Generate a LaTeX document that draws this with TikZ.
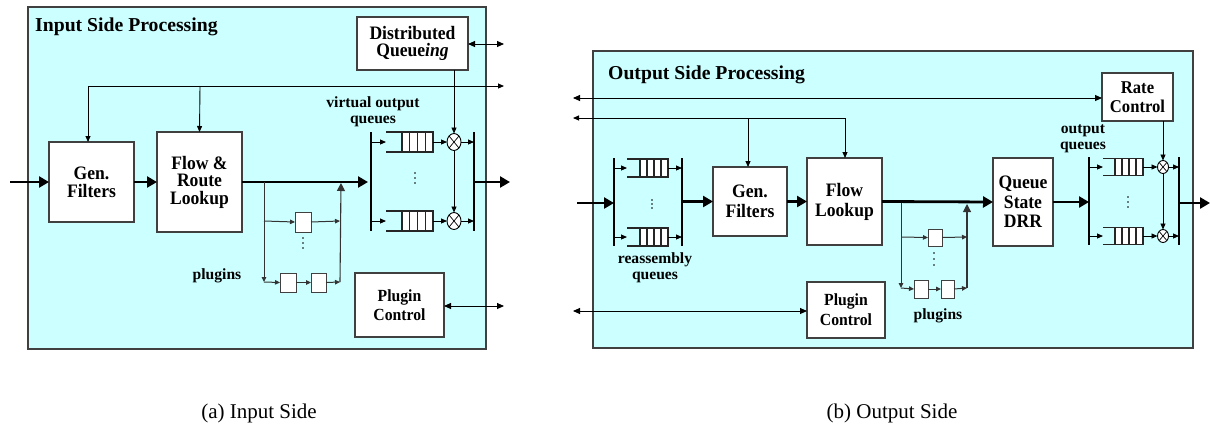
\documentclass[tikz,border=0pt]{standalone}
\usepackage{fontspec}
\setmainfont{Liberation Serif}
\newfontfamily\bxf[FakeStretch=0.925]{Liberation Serif}
\usetikzlibrary{arrows.meta,shapes.geometric}
\definecolor{panelcyan}{HTML}{CCFFFF}
\definecolor{edgegray}{HTML}{404040}
\newcommand{\myqueue}[6]{%
  \node[qnode, minimum width=#4, minimum height=#5] (#1) at (#2,#3) {};
  \pgfmathsetmacro\qa{#2-#4/2+#6}%
  \pgfmathsetmacro\qr{#2+#4/2}%
  \pgfmathsetmacro\qt{#3-#5/2}%
  \pgfmathsetmacro\qb{#3+#5/2}%
  \fill[white] (\qa,\qt) rectangle (\qr,\qb);
  \foreach \k in {0,1,2,3}{\pgfmathsetmacro\qx{\qa+\k*(\qr-\qa)/4}\draw[qline] (\qx,\qt)--(\qx,\qb);}
  \draw[qline] (#1.north west) -- (#1.north east) -- (#1.south east) -- (#1.south west);
}
\newcommand{\mydots}[4]{% x, y1, y2, y3
  \fill (#1,#2) circle (0.9) (#1,#3) circle (0.9) (#1,#4) circle (0.9);}
\begin{document}
\begin{tikzpicture}[x=1pt,y=-1pt,
  panelbox/.style={draw=edgegray, line width=1.3pt, fill=panelcyan, inner sep=0pt, outer sep=0pt},
  box/.style={draw=edgegray, line width=1.2pt, fill=white, inner sep=0pt, outer sep=0pt, align=center},
  pbox/.style={draw=edgegray, line width=1pt, fill=white, inner sep=0pt, outer sep=0pt},
  qnode/.style={inner sep=0pt, outer sep=0pt},
  qline/.style={line width=1.2pt, draw=black!85},
  mux/.style={ellipse, draw=black, line width=0.9pt, fill=white, inner sep=0pt, outer sep=0pt,
    path picture={\draw[line width=0.7pt] (path picture bounding box.north west) -- (path picture bounding box.south east)
      (path picture bounding box.north east) -- (path picture bounding box.south west);}},
  bar/.style={line width=1.3pt},
  thinar/.style={line width=0.9pt, -{Triangle[length=6pt,width=5pt]}},
  dblar/.style={line width=0.9pt, {Triangle[length=7pt,width=6pt]}-{Triangle[length=7pt,width=6pt]}},
  plg/.style={line width=1pt, draw=black!80, -{Triangle[length=5pt,width=4.5pt]}},
  thickar/.style={line width=2.8pt, -{Triangle[length=10pt,width=11pt]}},
  upar/.style={line width=1.1pt, draw=black!80, -{Triangle[length=8pt,width=8pt]}},
  ttl/.style={font=\bfseries\fontsize{19.7}{22}\selectfont, inner sep=0pt, anchor=base west},
  lbl/.style={font=\bfseries\fontsize{15.6}{16}\selectfont, inner sep=0pt, align=center},
  captext/.style={font=\fontsize{21}{24}\selectfont, inner sep=0pt},
]
\useasboundingbox (0,0) rectangle (1210,429);

% ================= (a) Input side =================
\node[panelbox, minimum width=458, minimum height=342] (pa) at (257,178) {};
\node[ttl] (ta) at (35,31) {Input Side Processing};

\node[box, minimum width=111, minimum height=53, font=\bxf\bfseries\fontsize{19}{17.5}\selectfont] (dq) at (412.5,43.5) {Distributed\\Queue\textit{ing}};
\node[box, minimum width=85, minimum height=80, font=\bxf\bfseries\fontsize{19}{18}\selectfont] (gf) at (91.5,182) {Gen.\\Filters};
\node[box, minimum width=85, minimum height=100, font=\bxf\bfseries\fontsize{19}{17.5}\selectfont] (fr) at (199.5,182) {Flow \&\\Route\\Lookup};
\node[box, minimum width=89, minimum height=64, font=\bxf\bfseries\fontsize{17}{19}\selectfont] (pc) at (399.5,305) {Plugin\\Control};

% plugins
\node[pbox, minimum width=16, minimum height=20] (pt) at (303,222) {};
\node[pbox, minimum width=16, minimum height=19] (pb1) at (288,282.5) {};
\node[pbox, minimum width=15, minimum height=19] (pb2) at (318.5,282.5) {};
\node[lbl] (lp) at (217,276) {plugins};
\mydots{303}{238}{243}{248}

% VOQ
\coordinate (vl1) at (371,132); \coordinate (vl2) at (371,231);
\coordinate (vr1) at (474,132); \coordinate (vr2) at (474,231);
\draw[bar] (vl1) -- (vl2);
\draw[bar] (vr1) -- (vr2);
\myqueue{q1}{409.5}{142}{47}{20}{16}
\myqueue{q2}{409.5}{221}{47}{20}{16}
\node[mux, minimum width=14, minimum height=17] (m1) at (454,142) {};
\node[mux, minimum width=14, minimum height=17] (m2) at (454,221) {};
\node[lbl] (lv) at (373,112) {virtual output\\queues};
\mydots{415}{173}{178}{183}

% connectors (a)
\coordinate (ain) at (10,182);
\draw[thickar] (ain) -- (gf.west);
\draw[thickar] (gf.east) -- (fr.west);
\coordinate (amain) at (368,182);
\draw[thickar] (fr.east) -- (amain);
\coordinate (pj) at (264,182); \coordinate (pc1) at (264,282); \coordinate (pm) at (264,221);
\coordinate (pr1) at (340,282); \coordinate (pr2) at (340,221); \coordinate (pr3) at (341,183);
\draw[plg] (pj) -- (pc1);
\draw[plg] (pc1) -- (pb1.west);
\draw[plg] (pm) -- (pt.west);
\draw[plg] (pb1.east) -- (pb2.west);
\draw[plg] (pb2.east) -- (pr1);
\draw[plg] (pt.east) -- (pr2);
\draw[upar] (pr1) -- (pr3);

\coordinate (tl) at (88,86); \coordinate (tm) at (200,86); \coordinate (tr) at (504,86);
\draw[thinar] (tl) -- (tr);
\draw[thinar] (tl) -- (tl |- gf.north);
\draw[thinar] (tm) -- (fr.north);
\coordinate (dqo) at (504,44);
\draw[dblar] (dq.east |- dqo) -- (dqo);
\draw[thinar] (dq.south -| m1.north) -- (m1.north);
\draw[thinar] (m1.south) -- (m2.north);
\draw[thinar] (vl1 |- q1.west) -- (q1.west);
\draw[thinar] (vl1 |- q2.west) -- (q2.west);
\draw[thinar] (q1.east) -- (m1.west);
\draw[thinar] (q2.east) -- (m2.west);
\draw[thinar] (m1.east) -- (vr1 |- m1.east);
\draw[thinar] (m2.east) -- (vr1 |- m2.east);
\coordinate (aout) at (510,182);
\draw[thickar] (vr1 |- aout) -- (aout);
\coordinate (pco) at (504,306);
\draw[dblar] (pc.east |- pco) -- (pco);

\node[captext] (capa) at (259,413) {(a) Input Side};

% ================= (b) Output side =================
\node[panelbox, minimum width=600, minimum height=297] (pbx) at (893,199.5) {};
\node[ttl] (tb) at (608,79) {Output Side Processing};

\node[box, minimum width=71, minimum height=48, font=\bxf\bfseries\fontsize{18}{19.5}\selectfont] (rc) at (1137.5,97) {Rate\\Control};
\node[box, minimum width=74, minimum height=69, font=\bxf\bfseries\fontsize{19}{20}\selectfont] (gf2) at (750,201.5) {Gen.\\Filters};
\node[box, minimum width=75, minimum height=87, font=\bxf\bfseries\fontsize{19}{20}\selectfont] (fl) at (844.5,201.5) {Flow\\Lookup};
\node[box, minimum width=60, minimum height=88, font=\bxf\bfseries\fontsize{19}{19.5}\selectfont] (qs) at (1023,202) {Queue\\State\\DRR};
\node[box, minimum width=78, minimum height=56, font=\bxf\bfseries\fontsize{17}{20}\selectfont] (pc2) at (846,310) {Plugin\\Control};

% reassembly queues
\coordinate (rl1) at (614,158); \coordinate (rl2) at (614,246);
\coordinate (rr1) at (682,158); \coordinate (rr2) at (682,246);
\draw[bar] (rl1) -- (rl2);
\draw[bar] (rr1) -- (rr2);
\myqueue{rq1}{647.5}{168}{41}{18}{13}
\myqueue{rq2}{647.5}{237}{41}{18}{13}
\draw[thinar] (rl1 |- rq1.west) -- (rq1.west);
\draw[thinar] (rl1 |- rq2.west) -- (rq2.west);
\draw[thinar] (rq1.east) -- (rr1 |- rq1.east);
\draw[thinar] (rq2.east) -- (rr1 |- rq2.east);
\node[lbl] (lr) at (655,268) {reassembly\\queues};
\mydots{652}{200}{204}{208}

% plugins (b)
\node[pbox, minimum width=14, minimum height=17] (qt) at (935,237.5) {};
\node[pbox, minimum width=14, minimum height=18] (qb1) at (921,289) {};
\node[pbox, minimum width=13, minimum height=18] (qb2) at (947.5,289) {};
\node[lbl] (lp2) at (938,316) {plugins};
\mydots{934}{253}{259}{265}

% output queues
\coordinate (ol1) at (1089,157); \coordinate (ol2) at (1089,245);
\coordinate (or1) at (1179,157); \coordinate (or2) at (1179,245);
\draw[bar] (ol1) -- (ol2);
\draw[bar] (or1) -- (or2);
\myqueue{oq1}{1123}{167}{40}{17}{12}
\myqueue{oq2}{1123}{236}{40}{17}{12}
\node[mux, minimum width=11, minimum height=13] (n1) at (1163,167) {};
\node[mux, minimum width=11, minimum height=13] (n2) at (1163,236) {};
\node[lbl] (lo) at (1083,139) {output\\queues};
\mydots{1128}{197}{202}{207}

% connectors (b)
\coordinate (bin) at (577,203);
\draw[thickar] (bin) -- (rl1 |- bin);
\draw[thickar] (rr1 |- gf2.west) -- (gf2.west);
\draw[thickar] (gf2.east) -- (fl.west);
\draw[thickar] (fl.east) -- (qs.west);
\draw[thickar] (qs.east) -- (ol1 |- qs.east);
\coordinate (bout) at (1210,203);
\draw[thickar] (or1 |- bout) -- (bout);

\coordinate (qj) at (901,203); \coordinate (qc1) at (901,288); \coordinate (qm) at (901,237);
\coordinate (qr1) at (967,288); \coordinate (qr2) at (967,237); \coordinate (qr3) at (967,204);
\draw[plg] (qj) -- (qc1);
\draw[plg] (qc1) -- (qb1.west);
\draw[plg] (qm) -- (qt.west);
\draw[plg] (qb1.east) -- (qb2.west);
\draw[plg] (qb2.east) -- (qr1);
\draw[plg] (qt.east) -- (qr2);
\draw[upar] (qr1) -- (qr3);

\draw[thinar] (ol1 |- oq1.west) -- (oq1.west);
\draw[thinar] (ol1 |- oq2.west) -- (oq2.west);
\draw[thinar] (oq1.east) -- (n1.west);
\draw[thinar] (oq2.east) -- (n2.west);
\draw[thinar] (n1.east) -- (or1 |- n1.east);
\draw[thinar] (n2.east) -- (or1 |- n2.east);
\draw[thinar] (rc.south -| n1.north) -- (n1.north);
\draw[thinar] (n1.south) -- (n2.north);

\coordinate (b98) at (573,98);
\draw[dblar] (b98) -- (rc.west |- b98);
\coordinate (b118) at (573,118); \coordinate (bf) at (845,118); \coordinate (bg) at (748,118);
\draw[thinar] (bf) -- (b118);
\draw[thinar] (bf) -- (bf |- fl.north);
\draw[thinar] (bg) -- (bg |- gf2.north);
\coordinate (b311) at (573,311);
\draw[dblar] (b311) -- (pc2.west |- b311);

\node[captext] (capb) at (892,413) {(b) Output Side};
\end{tikzpicture}
\end{document}
